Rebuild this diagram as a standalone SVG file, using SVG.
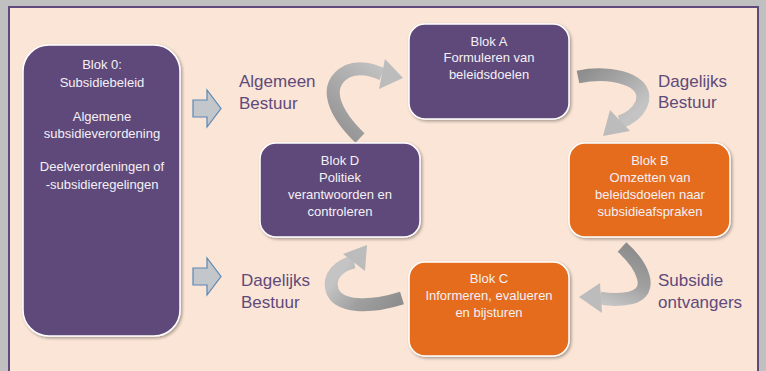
<svg xmlns="http://www.w3.org/2000/svg" width="766" height="371" viewBox="0 0 766 371">
<defs>
<style>
.node-p{fill:#5f497a;stroke:#ffffff;stroke-width:1.5}
.node-o{fill:#e46c1e;stroke:#ffffff;stroke-width:1.5}
.nt{font-family:"Liberation Sans",Arial,sans-serif;font-size:13px;fill:#f4f0f6;text-anchor:middle}
.lbl{font-family:"Liberation Sans",Arial,sans-serif;font-size:17px;fill:#604a7b}
.blk{fill:#c3c6ca;stroke:#5a87b3;stroke-width:1.2}
.rib{fill:none;stroke-width:13}
.head{fill:#bcbcbc}
</style>
<filter id="sh" x="-10%" y="-10%" width="130%" height="130%">
<feDropShadow dx="1.5" dy="1.5" stdDeviation="1.5" flood-color="#000" flood-opacity="0.35"/>
</filter>
<linearGradient id="g1" gradientUnits="userSpaceOnUse" x1="330" y1="140" x2="390" y2="70">
<stop offset="0" stop-color="#8e8e8e"/><stop offset="0.5" stop-color="#a8a8a8"/><stop offset="1" stop-color="#c4c4c4"/>
</linearGradient>
<linearGradient id="g2" gradientUnits="userSpaceOnUse" x1="578" y1="77" x2="620" y2="125">
<stop offset="0" stop-color="#8e8e8e"/><stop offset="0.5" stop-color="#a8a8a8"/><stop offset="1" stop-color="#c4c4c4"/>
</linearGradient>
<linearGradient id="g3" gradientUnits="userSpaceOnUse" x1="622" y1="247" x2="600" y2="300">
<stop offset="0" stop-color="#8e8e8e"/><stop offset="0.5" stop-color="#a0a0a0"/><stop offset="1" stop-color="#c4c4c4"/>
</linearGradient>
<linearGradient id="g4" gradientUnits="userSpaceOnUse" x1="402" y1="298" x2="352" y2="258">
<stop offset="0" stop-color="#8e8e8e"/><stop offset="0.5" stop-color="#a0a0a0"/><stop offset="1" stop-color="#c4c4c4"/>
</linearGradient>
</defs>
<rect x="0" y="0" width="766" height="371" fill="#c0c0c0"/>
<rect x="9" y="7" width="749" height="372" fill="#fbe5d6" stroke="#604a7b" stroke-width="2"/>

<g id="connectors">
<path class="rib" stroke="url(#g1)" d="M 360 138 C 336 115, 320 85, 348 71 C 360 66, 372 70, 382 74"/>
<polygon class="head" points="385,59 403,78 379,89"/>
<path class="rib" stroke="url(#g2)" d="M 578 77 C 612 70, 652 80, 641 105 C 636 115, 626 120, 620 122"/>
<polygon class="head" points="630,131 603,136 610,110"/>
<path class="rib" stroke="url(#g3)" d="M 622 247 C 642 265, 656 292, 630 298 C 620 300, 610 300, 600 298"/>
<polygon class="head" points="600,283 579,297 602,313"/>
<path class="rib" stroke="url(#g4)" d="M 402 298 C 370 308, 338 308, 332 290 C 328 275, 340 265, 354 262"/>
<polygon class="head" points="365,271 367,245 343,254"/>
<polygon class="blk" points="193,100 207,100 207,90 221,108.5 207,127 207,117 193,117"/>
<polygon class="blk" points="193,268 207,268 207,258 221,276.5 207,295 207,285 193,285"/>
</g>

<g id="blok0">
<rect class="node-p" filter="url(#sh)" x="23" y="45" width="157" height="291" rx="26"/>
<text class="nt" x="102" y="69">Blok 0:</text>
<text class="nt" x="102" y="87">Subsidiebeleid</text>
<text class="nt" x="102" y="121">Algemene</text>
<text class="nt" x="102" y="138">subsidieverordening</text>
<text class="nt" x="102" y="171">Deelverordeningen of</text>
<text class="nt" x="102" y="189">-subsidieregelingen</text>
</g>

<g id="blokA">
<rect class="node-p" filter="url(#sh)" x="409" y="24" width="160" height="95" rx="16"/>
<text class="nt" x="489" y="46">Blok A</text>
<text class="nt" x="489" y="62">Formuleren van</text>
<text class="nt" x="489" y="79">beleidsdoelen</text>
</g>

<g id="blokB">
<rect class="node-o" filter="url(#sh)" x="569" y="143" width="161" height="94" rx="16"/>
<text class="nt" x="650" y="165">Blok B</text>
<text class="nt" x="650" y="182">Omzetten van</text>
<text class="nt" x="650" y="199">beleidsdoelen naar</text>
<text class="nt" x="650" y="216">subsidieafspraken</text>
</g>

<g id="blokC">
<rect class="node-o" filter="url(#sh)" x="409" y="262" width="160" height="94" rx="16"/>
<text class="nt" x="489" y="283">Blok C</text>
<text class="nt" x="489" y="300">Informeren, evalueren</text>
<text class="nt" x="489" y="317">en bijsturen</text>
</g>

<g id="blokD">
<rect class="node-p" filter="url(#sh)" x="260" y="143" width="160" height="94" rx="16"/>
<text class="nt" x="340" y="165">Blok D</text>
<text class="nt" x="340" y="182">Politiek</text>
<text class="nt" x="340" y="199">verantwoorden en</text>
<text class="nt" x="340" y="216">controleren</text>
</g>

<g id="labels">
<text class="lbl" x="239" y="87">Algemeen</text>
<text class="lbl" x="239" y="109">Bestuur</text>
<text class="lbl" x="658" y="87">Dagelijks</text>
<text class="lbl" x="658" y="108">Bestuur</text>
<text class="lbl" x="658" y="286">Subsidie</text>
<text class="lbl" x="658" y="308">ontvangers</text>
<text class="lbl" x="241" y="286">Dagelijks</text>
<text class="lbl" x="241" y="308">Bestuur</text>
</g>
</svg>
